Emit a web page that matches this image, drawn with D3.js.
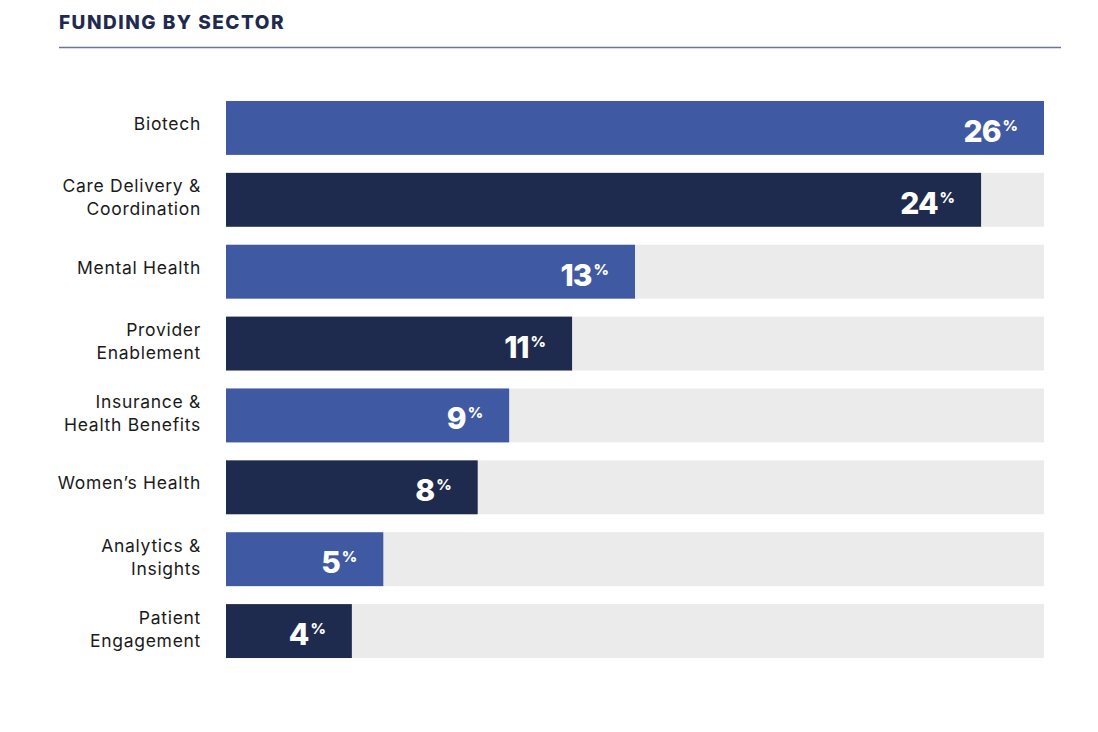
<!DOCTYPE html>
<html>
<head>
<meta charset="utf-8">
<script src="https://cdn.jsdelivr.net/npm/d3@7"></script>
<style>
  body { margin: 0; background: #fff; }
  svg { display: block; }
</style>
</head>
<body>
<svg id="chart" width="1098" height="732"></svg>
<script>
const sectors = [
  ["Biotech"],
  ["Care Delivery &", "Coordination"],
  ["Mental Health"],
  ["Provider", "Enablement"],
  ["Insurance &", "Health Benefits"],
  ["Women\u2019s Health"],
  ["Analytics &", "Insights"],
  ["Patient", "Engagement"]
];
const shares = [26, 24, 13, 11, 9, 8, 5, 4];
const barColors = ["#3f5aa3", "#1f2a4f"];

const svg = d3.select("#chart");
const font = "Inter, 'Noto Sans', sans-serif";

// title + rule
svg.append("text")
  .attr("x", 59).attr("y", 29)
  .attr("font-family", font)
  .attr("font-weight", 800)
  .attr("font-size", 19)
  .attr("letter-spacing", 1.5)
  .attr("fill", "#1f2a4f")
  .text("FUNDING BY SECTOR");

svg.append("line")
  .attr("x1", 59).attr("x2", 1061)
  .attr("y1", 47.5).attr("y2", 47.5)
  .attr("stroke", "#6d7596").attr("stroke-width", 1.5);

const x = d3.scaleLinear().domain([0, d3.max(shares)]).range([226, 1044]);
const y = d3.scaleBand().domain(d3.range(shares.length)).range([92, 667]).paddingInner(0.25).paddingOuter(0.125);

const rows = svg.selectAll("g.row")
  .data(shares.map((v, i) => ({ v, i, label: sectors[i] })))
  .join("g")
  .attr("class", "row")
  .attr("transform", d => `translate(0,${y(d.i)})`);

rows.append("rect")
  .attr("x", x(0)).attr("width", x.range()[1] - x(0))
  .attr("height", y.bandwidth())
  .attr("fill", "#ebebeb");

rows.append("rect")
  .attr("x", x(0)).attr("width", d => x(d.v) - x(0))
  .attr("height", y.bandwidth())
  .attr("fill", d => barColors[d.i % 2]);

// category labels
rows.append("text")
  .attr("text-anchor", "end")
  .attr("font-family", font)
  .attr("font-size", 17.5)
  .attr("letter-spacing", 0.7)
  .attr("fill", "#1a1a1a")
  .each(function (d) {
    const t = d3.select(this);
    const n = d.label.length;
    d.label.forEach((line, k) => {
      t.append("tspan")
        .attr("x", 201)
        .attr("y", y.bandwidth() / 2 + 2 + (k - (n - 1) / 2) * 23 + (n > 1 ? 2 : 0))
        .text(line);
    });
  });

// value labels
const val = rows.append("text")
  .attr("text-anchor", "end")
  .attr("x", d => x(d.v) - 26)
  .attr("y", y.bandwidth() / 2 + 14)
  .attr("font-family", font)
  .attr("font-weight", 800)
  .attr("fill", "#fff");
val.append("tspan").attr("font-size", 30).attr("letter-spacing", -1).text(d => d.v);
val.append("tspan").attr("font-size", 15).attr("dy", -11).attr("dx", 2).text("%");
</script>
</body>
</html>
